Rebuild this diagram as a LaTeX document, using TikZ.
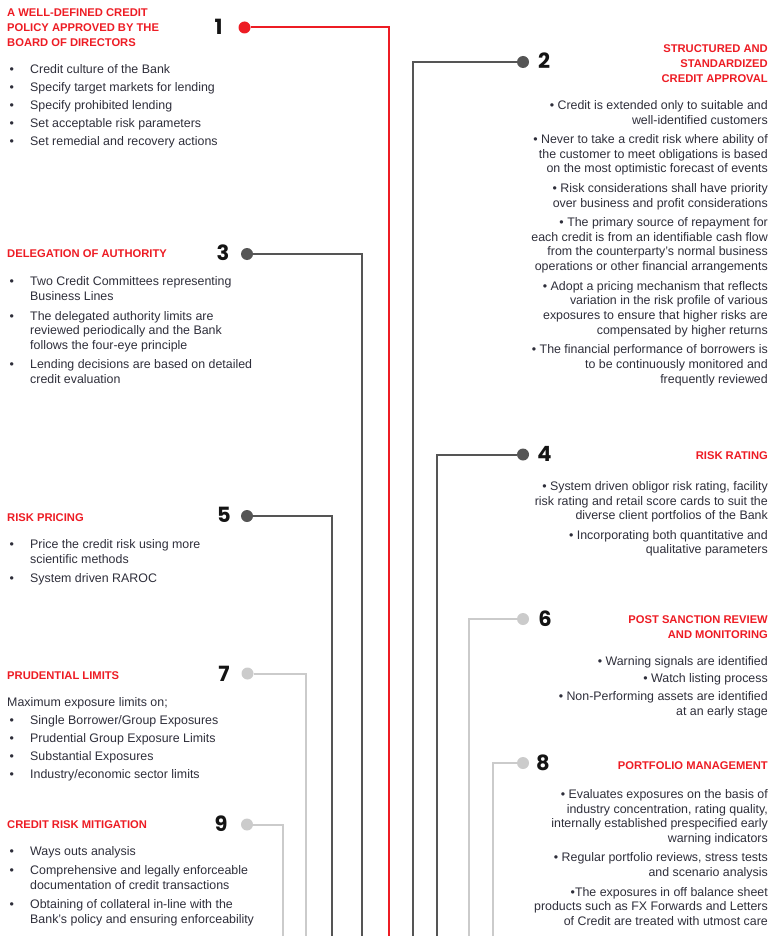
\documentclass[tikz,border=0pt]{standalone}
\usepackage{fontspec}
\setmainfont{Liberation Sans}
\newfontfamily\numfont{Poppins}
\definecolor{crRed}{HTML}{ED1C24}
\definecolor{crDark}{HTML}{555555}
\definecolor{crLight}{HTML}{CBCBCB}
\definecolor{crText}{HTML}{2E2E3A}
\definecolor{crNum}{HTML}{141414}
\newcommand\firstln{\rule{0pt}{10pt}}
\newcommand\bl{\makebox[20.5pt][l]{\textbullet}}
\newcommand\ind{\makebox[20.5pt][l]{}}
\tikzset{
  head/.style={inner sep=0pt, text=crRed, font=\fontsize{11.2}{15}\selectfont\bfseries},
  body/.style={inner sep=0pt, text=crText, font=\fontsize{12.4}{14.8}\selectfont},
  num/.style={inner sep=0pt, text=crNum, font=\numfont\fontsize{21}{21}\selectfont\bfseries},
  dotbase/.style={circle, inner sep=0pt, minimum size=12pt},
  dotR/.style={dotbase, fill=crRed},
  dotD/.style={dotbase, fill=crDark},
  dotL/.style={dotbase, fill=crLight},
  wire/.style={line width=2pt},
}
\begin{document}
\begin{tikzpicture}[x=1pt,y=-1pt]
\useasboundingbox (0,0) rectangle (775,936);

% ---------- markers, numbers, connectors ----------
\node[dotR] (d1) at (244.5,27.5) {};
\node[num]  (n1) at (218.5,27) {1};
\coordinate (c1) at (389,27.5);
\coordinate (e1) at (389,936);
\draw[wire,crRed] (d1) -- (c1) -- (e1);

\node[dotD] (d3) at (247,254) {};
\node[num]  (n3) at (223,253) {3};
\coordinate (c3) at (361.5,254);
\coordinate (e3) at (361.5,936);
\draw[wire,crDark] (d3) -- (c3) -- (e3);

\node[dotD] (d5) at (247,516) {};
\node[num]  (n5) at (224,515) {5};
\coordinate (c5) at (331.5,516);
\coordinate (e5) at (331.5,936);
\draw[wire,crDark] (d5) -- (c5) -- (e5);

\node[dotL] (d7) at (247.5,673.5) {};
\node[num]  (n7) at (224,674) {7};
\coordinate (c7) at (306,673.5);
\coordinate (e7) at (306,936);
\draw[wire,crLight] (d7) -- (c7) -- (e7);

\node[dotL] (d9) at (247,824.5) {};
\node[num]  (n9) at (221,824) {9};
\coordinate (c9) at (282.5,824.5);
\coordinate (e9) at (282.5,936);
\draw[wire,crLight] (d9) -- (c9) -- (e9);

\node[dotD] (d2) at (523,62) {};
\node[num]  (n2) at (544,61) {2};
\coordinate (c2) at (413,62);
\coordinate (e2) at (413,936);
\draw[wire,crDark] (d2) -- (c2) -- (e2);

\node[dotD] (d4) at (523,454.5) {};
\node[num]  (n4) at (544.5,454) {4};
\coordinate (c4) at (436.5,454.5);
\coordinate (e4) at (436.5,936);
\draw[wire,crDark] (d4) -- (c4) -- (e4);

\node[dotL] (d6) at (523,619) {};
\node[num]  (n6) at (545,619) {6};
\coordinate (c6) at (468.5,619);
\coordinate (e6) at (468.5,936);
\draw[wire,crLight] (d6) -- (c6) -- (e6);

\node[dotL] (d8) at (523,763) {};
\node[num]  (n8) at (543,763) {8};
\coordinate (c8) at (492.5,763);
\coordinate (e8) at (492.5,936);
\draw[wire,crLight] (d8) -- (c8) -- (e8);

% ---------- left column ----------
\node[head,anchor=north west,align=left] (h1) at (7,6) {\firstln A WELL-DEFINED CREDIT\\POLICY APPROVED BY THE\\BOARD OF DIRECTORS};
\node[body,anchor=north west,align=left] (b1) at (9.5,63.3) {\firstln\bl Credit culture of the Bank\\[3.1pt]
\bl Specify target markets for lending\\[3.1pt]
\bl Specify prohibited lending\\[3.1pt]
\bl Set acceptable risk parameters\\[3.1pt]
\bl Set remedial and recovery actions};

\node[head,anchor=north west,align=left] (h3) at (7,247) {\firstln DELEGATION OF AUTHORITY};
\node[body,anchor=north west,align=left] (b3) at (9.5,275.7) {\firstln\bl Two Credit Committees representing\\
\ind Business Lines\\[4.5pt]
\bl The delegated authority limits are\\
\ind reviewed periodically and the Bank\\
\ind follows the four-eye principle\\[4.5pt]
\bl Lending decisions are based on detailed\\
\ind credit evaluation};

\node[head,anchor=north west,align=left] (h5) at (7,511) {\firstln RISK PRICING};
\node[body,anchor=north west,align=left] (b5) at (9.5,538) {\firstln\bl Price the credit risk using more\\
\ind scientific methods\\[4.5pt]
\bl System driven RAROC};

\node[head,anchor=north west,align=left] (h7) at (7,669) {\firstln PRUDENTIAL LIMITS};
\node[body,anchor=north west,align=left] (b7) at (7,696) {\firstln Maximum exposure limits on;\\[3.3pt]
\hspace*{2.5pt}\bl Single Borrower/Group Exposures\\[3.3pt]
\hspace*{2.5pt}\bl Prudential Group Exposure Limits\\[3.3pt]
\hspace*{2.5pt}\bl Substantial Exposures\\[3.3pt]
\hspace*{2.5pt}\bl Industry/economic sector limits};

\node[head,anchor=north west,align=left] (h9) at (7,818) {\firstln CREDIT RISK MITIGATION};
\node[body,anchor=north west,align=left] (b9) at (9.5,845) {\firstln\bl Ways outs analysis\\[4.5pt]
\bl Comprehensive and legally enforceable\\
\ind documentation of credit transactions\\[4.5pt]
\bl Obtaining of collateral in-line with the\\
\ind Bank's policy and ensuring enforceability};

% ---------- right column ----------
\node[head,anchor=north east,align=right] (h2) at (768,42) {\firstln STRUCTURED AND\\STANDARDIZED\\CREDIT APPROVAL};
\node[body,anchor=north east,align=right] (b2) at (768,99) {\firstln\textbullet{} Credit is extended only to suitable and\\
well-identified customers\\[4.5pt]
\textbullet{} Never to take a credit risk where ability of\\
the customer to meet obligations is based\\
on the most optimistic forecast of events\\[4.5pt]
\textbullet{} Risk considerations shall have priority\\
over business and profit considerations\\[4.5pt]
\textbullet{} The primary source of repayment for\\
each credit is from an identifiable cash flow\\
from the counterparty's normal business\\
operations or other financial arrangements\\[4.5pt]
\textbullet{} Adopt a pricing mechanism that reflects\\
variation in the risk profile of various\\
exposures to ensure that higher risks are\\
compensated by higher returns\\[4.5pt]
\textbullet{} The financial performance of borrowers is\\
to be continuously monitored and\\
frequently reviewed};

\node[head,anchor=north east,align=right] (h4) at (768,449) {\firstln RISK RATING};
\node[body,anchor=north east,align=right] (b4) at (768,480) {\firstln\textbullet{} System driven obligor risk rating, facility\\
risk rating and retail score cards to suit the\\
diverse client portfolios of the Bank\\[4.5pt]
\textbullet{} Incorporating both quantitative and\\
qualitative parameters};

\node[head,anchor=north east,align=right] (h6) at (768,613) {\firstln POST SANCTION REVIEW\\AND MONITORING};
\node[body,anchor=north east,align=right] (b6) at (768,655) {\firstln\textbullet{} Warning signals are identified\\[2.8pt]
\textbullet{} Watch listing process\\[2.8pt]
\textbullet{} Non-Performing assets are identified\\
at an early stage};

\node[head,anchor=north east,align=right] (h8) at (768,759) {\firstln PORTFOLIO MANAGEMENT};
\node[body,anchor=north east,align=right] (b8) at (768,788) {\firstln\textbullet{} Evaluates exposures on the basis of\\
industry concentration, rating quality,\\
internally established prespecified early\\
warning indicators\\[4.5pt]
\textbullet{} Regular portfolio reviews, stress tests\\
and scenario analysis\\[4.5pt]
\textbullet The exposures in off balance sheet\\
products such as FX Forwards and Letters\\
of Credit are treated with utmost care};
\end{tikzpicture}
\end{document}
